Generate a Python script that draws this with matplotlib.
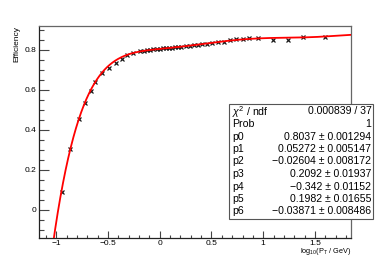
import numpy as np
import matplotlib
matplotlib.use("Agg")
import matplotlib.pyplot as plt
from matplotlib.patches import Rectangle

plt.rcParams['font.family'] = ['Liberation Sans', 'DejaVu Sans']
plt.rcParams['mathtext.fontset'] = 'custom'
plt.rcParams['mathtext.rm'] = 'Liberation Sans'
plt.rcParams['mathtext.it'] = 'Liberation Sans:italic'

# ---- data ----
x_vals = [-0.946, -0.863, -0.782, -0.724, -0.666, -0.622, -0.560, -0.486, -0.422, -0.367,
          -0.319, -0.255,
          -0.190, -0.150, -0.120, -0.090, -0.060, -0.030, 0.000, 0.030, 0.060, 0.090,
          0.120, 0.150, 0.180, 0.210, 0.250, 0.290, 0.330, 0.370, 0.410, 0.460,
          0.510, 0.560, 0.620,
          0.680, 0.733, 0.807, 0.865, 0.952, 1.091, 1.241, 1.386, 1.593]
y_vals = [0.090, 0.304, 0.451, 0.531, 0.591, 0.637, 0.685, 0.708, 0.735, 0.754,
          0.772, 0.783,
          0.792, 0.795, 0.797, 0.800, 0.801, 0.803, 0.802, 0.806, 0.806, 0.809,
          0.810, 0.812, 0.814, 0.814, 0.818, 0.819, 0.822, 0.823, 0.828, 0.830,
          0.834, 0.836, 0.840,
          0.846, 0.851, 0.855, 0.858, 0.860, 0.848, 0.846, 0.863, 0.863]

# fit parameters (pol6) as shown in the stats box
fit_params = [0.8037, 0.05272, -0.02604, 0.2092, -0.342, 0.1982, -0.03871]
fit_errors = [0.001294, 0.005147, 0.008172, 0.01937, 0.01152, 0.01655, 0.008486]
chi2_text = "0.000839 / 37"
prob_text = "1"

y_ticks = [0, 0.2, 0.4, 0.6, 0.8]
y_ticklabels = ["0", "0.2", "0.4", "0.6", "0.8"]
x_ticks = [-1, -0.5, 0, 0.5, 1, 1.5]
x_ticklabels = ["\u22121", "\u22120.5", "0", "0.5", "1", "1.5"]

# ---- figure ----
W, H = 390, 265
fig = plt.figure(figsize=(W / 100, H / 100), dpi=100)
ax = fig.add_axes([39 / W, 1 - 238 / H, 312 / W, 212 / H])

ax.plot(x_vals, y_vals, linestyle='none', marker='x', markersize=3.4,
        markeredgewidth=0.9, color='#1a1a1a', zorder=2)

xs = np.linspace(-1.166, 1.848, 600)
ys = np.polyval(fit_params[::-1], xs)
ax.plot(xs, ys, color='#ff0000', linewidth=1.3, zorder=3)

ax.set_xlim(-1.166, 1.848)
ax.set_ylim(-0.141, 0.918)

ax.set_yticks(y_ticks)
ax.set_yticklabels(y_ticklabels)
ax.set_yticks(np.arange(-0.10, 0.92, 0.05), minor=True)
ax.set_xticks(x_ticks)
ax.set_xticklabels(x_ticklabels)
ax.set_xticks(np.arange(-1.1, 1.85, 0.1), minor=True)

ax.tick_params(axis='y', which='major', direction='in', length=7, width=0.8,
               color='#444444', labelsize=6, pad=1.8)
ax.tick_params(axis='y', which='minor', direction='in', length=3.5, width=0.8,
               color='#444444')
ax.tick_params(axis='x', which='major', direction='in', length=4.7, width=0.8,
               color='#444444', labelsize=6, pad=1.4)
ax.tick_params(axis='x', which='minor', direction='in', length=2.4, width=0.8,
               color='#444444')
for s in ['top', 'right']:
    ax.spines[s].set_color('#666666')
    ax.spines[s].set_linewidth(0.9)
for s in ['left', 'bottom']:
    ax.spines[s].set_color('#222222')
    ax.spines[s].set_linewidth(0.9)

fig.text(16.5 / W, 1 - 26 / H, "Efficiency", rotation=90, ha='center', va='top',
         fontsize=6)
fig.text(351.5 / W, 1 - 251.5 / H,
         r"$\mathrm{log}_{10}(\mathrm{P}_{\mathrm{T}}$ / GeV)",
         ha='right', va='center', fontsize=5.3)

# ---- stats box ----
bx0, by0, bx1, by1 = 229, 104, 373.3, 219.3
fig.patches.append(Rectangle((bx0 / W, 1 - by1 / H), (bx1 - bx0) / W, (by1 - by0) / H,
                             transform=fig.transFigure, facecolor='white',
                             edgecolor='#555555', linewidth=0.8, zorder=5))

def fmt(v):
    s = f"{abs(v):g}"
    return ("\u2212" + s) if v < 0 else s

rows = [(r"$\chi^{2}$ / ndf", chi2_text), ("Prob", prob_text)]
for i, (p, e) in enumerate(zip(fit_params, fit_errors)):
    rows.append((f"p{i}", f"{fmt(p)} \u00b1 {e:g}"))

y_first, y_last = 110.5, 210.5
step = (y_last - y_first) / (len(rows) - 1)
for k, (lab, val) in enumerate(rows):
    yy = 1 - (y_first + k * step) / H
    fig.text(232.3 / W, yy, lab, ha='left', va='center_baseline', fontsize=7.6, zorder=6)
    fig.text(371.5 / W, yy, val, ha='right', va='center_baseline', fontsize=7.6, zorder=6)

fig.savefig("out.png", dpi=100)
